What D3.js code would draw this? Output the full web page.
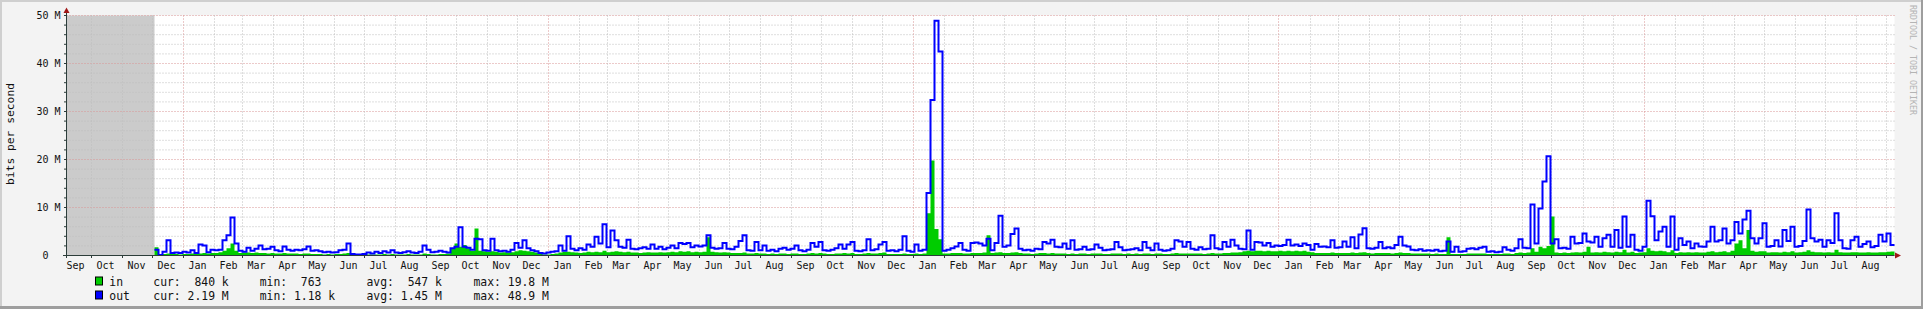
<!DOCTYPE html>
<html>
<head>
<meta charset="utf-8">
<script src="https://cdn.jsdelivr.net/npm/d3@7"></script>
<style>
  body { margin: 0; background: #f3f3f3; }
  svg text { font-family: "DejaVu Sans Mono", monospace; white-space: pre; }
</style>
</head>
<body>
<div id="chart"></div>
<script>
// traffic, Mbit/s, one value every 4 days starting 2013-12-04
var outMbps = [
  1.2,0.1,0.8,3.2,0.5,0.6,0.5,0.8,0.6,1.1,
  0.5,2.3,2.1,0.7,1.2,1.1,1.2,3.2,4.2,7.9,
  2.5,1.0,0.8,1.6,1.0,1.4,2.1,1.3,1.4,1.8,
  1.1,0.9,1.9,1.2,1.0,1.2,1.1,1.3,1.9,1.0,
  1.1,0.9,0.7,0.8,0.6,0.7,1.1,1.2,2.5,0.3,
  0.2,0.2,0.3,0.6,0.4,0.8,0.5,0.9,0.6,1.1,
  0.6,0.5,0.7,0.9,0.6,0.5,0.8,2.1,1.2,0.7,
  0.8,1.0,0.8,0.6,1.5,1.8,5.9,1.8,1.6,1.2,
  3.5,3.4,1.1,1.0,3.5,1.1,0.9,1.0,0.8,1.2,
  2.6,1.6,3.2,1.5,1.1,0.9,0.5,0.4,0.6,0.8,
  0.9,2.1,1.0,4.0,1.4,1.1,1.5,1.2,2.3,1.8,
  3.9,2.5,6.5,1.7,5.2,3.2,1.8,1.6,3.3,1.4,
  1.3,1.5,1.7,1.4,2.3,1.4,1.8,1.3,1.6,2.1,
  1.5,2.6,2.4,2.6,1.7,2.1,1.9,2.1,4.2,1.6,
  1.4,1.5,2.6,1.4,1.3,1.8,3.0,4.2,1.1,1.0,
  2.8,1.1,2.1,1.0,1.2,0.9,1.4,1.6,1.2,1.4,
  2.1,1.1,0.9,1.2,2.6,1.8,2.8,1.1,1.0,1.2,
  1.5,2.3,1.4,2.3,2.8,1.0,0.9,1.1,3.4,1.1,
  1.3,2.3,2.8,1.0,1.1,0.9,1.2,4.0,1.0,0.8,
  2.3,1.0,1.2,13.0,32.4,48.9,42.5,1.0,1.2,1.5,
  1.9,2.6,1.2,1.0,2.6,2.7,2.5,2.1,3.5,1.1,
  2.6,8.3,1.8,2.1,4.5,5.6,1.4,1.1,1.2,1.0,
  1.4,1.3,2.8,2.5,3.3,1.8,1.7,2.5,1.4,3.2,
  1.2,1.3,1.8,1.2,1.3,2.3,1.6,1.1,1.2,1.3,
  2.8,1.7,1.1,1.2,1.3,1.5,1.1,2.8,1.6,1.1,
  2.5,1.2,1.0,1.1,1.4,3.2,2.9,1.8,2.8,1.4,
  1.2,1.7,1.3,1.4,4.2,1.5,1.3,2.8,1.8,3.3,
  2.1,1.4,1.3,5.2,1.2,2.8,2.7,2.1,2.6,1.8,
  2.1,2.0,2.2,3.3,2.1,2.3,2.0,2.5,2.2,1.2,
  2.4,1.8,1.9,1.7,3.2,1.6,1.7,2.9,1.8,3.8,
  1.5,4.4,5.7,1.5,1.4,1.6,2.8,1.5,1.7,1.5,
  2.2,3.9,2.1,1.9,1.2,1.1,1.3,1.0,1.1,1.0,
  1.2,0.9,1.0,2.9,0.8,1.8,0.8,0.9,1.4,1.5,
  1.3,1.6,1.8,0.8,0.9,0.7,0.8,1.7,1.2,1.0,
  1.5,3.4,1.6,1.5,10.6,2.5,9.8,15.4,20.7,2.5,
  3.4,1.5,1.6,1.4,3.9,2.5,2.6,4.6,2.9,2.7,
  3.9,1.8,3.6,4.3,1.8,5.3,1.6,8.1,1.8,4.3,
  1.2,1.0,1.8,11.4,8.2,3.2,5.0,6.0,1.8,8.1,
  1.2,3.6,2.2,2.9,1.5,2.5,1.9,1.8,2.9,6.0,
  2.9,3.2,5.6,2.5,3.2,7.0,4.6,7.5,9.3,3.6,
  2.5,3.6,6.7,1.8,2.0,3.2,1.9,5.3,3.0,6.0,
  1.8,2.0,3.0,9.6,3.6,2.9,3.3,1.8,3.2,2.6,
  8.8,3.2,1.5,1.4,3.2,3.9,1.8,2.4,2.9,1.7,
  2.0,4.3,2.9,4.6,2.19
];

var inMbps = [
  1.7,0.1,0.3,0.4,0.3,0.3,0.2,0.3,0.3,0.4,
  0.3,0.4,0.5,0.4,0.5,0.5,0.7,1.0,1.5,2.5,
  1.0,0.5,0.6,0.6,0.5,0.6,0.5,0.5,0.4,0.5,
  0.4,0.4,0.5,0.4,0.4,0.4,0.3,0.4,0.4,0.3,
  0.3,0.3,0.2,0.3,0.2,0.3,0.3,0.4,0.5,0.1,
  0.1,0.1,0.1,0.2,0.2,0.2,0.2,0.3,0.2,0.3,
  0.2,0.2,0.2,0.3,0.2,0.2,0.2,0.4,0.3,0.2,
  0.2,0.3,0.3,0.4,1.5,2.5,1.8,2.2,1.5,1.0,
  5.6,1.0,0.9,0.8,0.9,0.8,0.6,0.7,0.6,0.7,
  0.9,1.1,1.0,0.9,0.8,0.6,0.3,0.2,0.2,0.3,
  0.4,0.6,0.8,0.8,0.7,0.6,0.5,0.6,0.8,0.7,
  0.8,0.7,1.0,0.7,0.8,0.9,0.8,0.7,0.8,0.6,
  0.6,0.5,0.6,0.7,0.6,0.6,0.7,0.6,0.7,0.8,
  0.7,0.9,0.8,0.9,0.7,0.8,0.7,0.8,3.8,0.8,
  0.7,0.6,0.7,0.6,0.5,0.5,0.5,0.6,0.4,0.4,
  0.5,0.4,0.4,0.3,0.4,0.3,0.4,0.4,0.3,0.4,
  0.4,0.3,0.3,0.4,0.5,0.4,0.5,0.4,0.3,0.3,
  0.4,0.4,0.5,0.4,0.5,0.3,0.3,0.4,0.5,0.4,
  0.4,0.5,0.6,0.3,0.3,0.3,0.3,0.4,0.3,0.3,
  0.4,0.3,0.4,8.8,19.8,5.5,3.4,0.4,0.4,0.5,
  0.5,0.5,0.4,0.4,0.5,0.5,0.5,0.6,4.2,0.5,
  0.6,0.7,0.5,0.5,0.6,0.7,0.5,0.4,0.4,0.3,
  0.4,0.5,0.5,0.4,0.5,0.4,0.4,0.4,0.3,0.4,
  0.3,0.4,0.4,0.3,0.4,0.4,0.4,0.3,0.3,0.4,
  0.4,0.4,0.3,0.4,0.3,0.4,0.3,0.4,0.4,0.3,
  0.4,0.4,0.3,0.3,0.4,0.5,0.4,0.4,0.4,0.4,
  0.4,0.4,0.3,0.4,0.5,0.4,0.4,0.5,0.5,0.6,
  0.6,0.7,0.9,1.0,0.9,1.0,1.0,0.9,1.0,0.9,
  0.9,1.0,0.9,1.0,0.9,1.0,0.9,1.0,0.8,0.7,
  0.5,0.5,0.5,0.5,0.6,0.5,0.5,0.5,0.5,0.6,
  0.5,0.6,0.7,0.5,0.4,0.5,0.5,0.5,0.5,0.4,
  0.5,0.6,0.5,0.5,0.4,0.4,0.4,0.4,0.4,0.3,
  0.4,0.3,0.3,3.8,0.3,0.3,0.3,0.3,0.4,0.4,
  0.4,0.4,0.4,0.3,0.3,0.3,0.3,0.4,0.4,0.3,
  0.5,0.6,0.5,0.6,1.5,0.8,1.8,1.5,2.0,8.1,
  0.6,0.5,0.6,0.5,0.6,0.7,0.6,0.8,1.8,0.6,
  0.7,0.6,0.8,0.7,0.6,0.8,0.7,1.2,0.6,0.8,
  0.5,0.6,0.7,1.5,1.0,0.9,1.0,0.9,0.7,1.1,
  0.5,0.7,0.6,0.7,0.6,0.7,0.6,0.6,0.8,0.9,
  0.7,0.8,0.9,0.7,1.0,2.5,3.2,1.5,5.3,1.0,
  0.8,0.9,0.9,0.6,0.7,0.7,0.6,0.8,0.7,0.9,
  0.6,0.7,0.8,1.1,0.8,0.7,0.7,0.6,0.7,0.6,
  1.2,0.7,0.6,0.6,0.7,0.7,0.6,0.6,0.7,0.6,
  0.6,0.7,0.7,0.8,0.84
];

var yTicks = [0, 10, 20, 30, 40, 50];
var legendNames = ["in", "out"];
var legendCur = ["cur:  840 k", "cur: 2.19 M"];
var legendMin = ["min:  763", "min: 1.18 k"];
var legendAvg = ["avg:  547 k", "avg: 1.45 M"];
var legendMax = ["max: 19.8 M", "max: 48.9 M"];

var viewStart = new Date(Date.UTC(2013, 8, 7));
var viewEnd = new Date(Date.UTC(2018, 8, 9));
var dataStart = new Date(Date.UTC(2013, 11, 4));
var stepDays = 4;

var colIn = "#00cc00", colOut = "#0000ff";
var axisCol = "#2c3d3a", arrowCol = "#a01818";

var svg = d3.select("#chart").append("svg")
  .attr("width", 1923).attr("height", 309);

// frame
svg.append("rect").attr("width", 1923).attr("height", 309).attr("fill", "#f3f3f3");
svg.append("rect").attr("x", 0).attr("y", 0).attr("width", 1923).attr("height", 2).attr("fill", "#cfcfcf");
svg.append("rect").attr("x", 0).attr("y", 0).attr("width", 2).attr("height", 309).attr("fill", "#cfcfcf");
svg.append("rect").attr("x", 0).attr("y", 306).attr("width", 1923).attr("height", 3).attr("fill", "#9e9e9e");
svg.append("rect").attr("x", 1921).attr("y", 0).attr("width", 2).attr("height", 309).attr("fill", "#9e9e9e");

var x = d3.scaleUtc().domain([viewStart, viewEnd]).range([66.5, 1894.5]);
var y = d3.scaleLinear().domain([0, 50]).range([255.5, 15.5]);

// canvas
svg.append("rect")
  .attr("x", x(viewStart)).attr("y", y(50))
  .attr("width", x(viewEnd) - x(viewStart)).attr("height", y(0) - y(50))
  .attr("fill", "#ffffff");

// no data yet
svg.append("rect")
  .attr("x", x(viewStart)).attr("y", y(50))
  .attr("width", x(dataStart) - x(viewStart)).attr("height", y(0) - y(50))
  .attr("fill", "#cbcbcb");

// grid
var grid = svg.append("g").attr("stroke-dasharray", "1,2").attr("stroke-width", 1);
d3.range(2, 51, 2).forEach(function(v) {
  grid.append("line")
    .attr("x1", x(viewStart)).attr("x2", x(viewEnd))
    .attr("y1", y(v)).attr("y2", y(v))
    .attr("stroke", v % 10 === 0 ? "#d89494" : "#bdbdbd");
});
var months = d3.utcMonth.range(d3.utcMonth.ceil(viewStart), viewEnd);
months.forEach(function(m) {
  var xm = Math.round(x(m)) + 0.5;
  grid.append("line")
    .attr("x1", xm).attr("x2", xm)
    .attr("y1", y(50)).attr("y2", y(0))
    .attr("stroke", m.getUTCMonth() === 0 ? "#d89494" : "#bdbdbd");
});

// series
var pts = function(arr) {
  var p = arr.map(function(v, i) { return [d3.utcDay.offset(dataStart, i * stepDays), v]; });
  p.push([viewEnd, arr[arr.length - 1]]);
  return p;
};

var area = d3.area()
  .curve(d3.curveStepAfter)
  .x(function(d) { return x(d[0]); })
  .y0(y(0))
  .y1(function(d) { return y(d[1]); });

var line = d3.line()
  .curve(d3.curveStepAfter)
  .x(function(d) { return x(d[0]); })
  .y(function(d) { return y(d[1]); });

svg.append("path").attr("d", area(pts(inMbps))).attr("fill", colIn);
svg.append("path").attr("d", line(pts(outMbps)))
  .attr("fill", "none").attr("stroke", colOut).attr("stroke-width", 2);

// axes
var ax = svg.append("g").attr("stroke", axisCol).attr("stroke-width", 1);
ax.append("line").attr("x1", 63).attr("x2", x(viewEnd)).attr("y1", y(0)).attr("y2", y(0));
ax.append("line").attr("x1", x(viewStart)).attr("x2", x(viewStart)).attr("y1", 258).attr("y2", 12);
d3.range(2, 51, 2).forEach(function(v) {
  ax.append("line").attr("x1", 64).attr("x2", x(viewStart)).attr("y1", y(v)).attr("y2", y(v));
});
months.forEach(function(m) {
  var xm = Math.round(x(m)) + 0.5;
  ax.append("line").attr("x1", xm).attr("x2", xm).attr("y1", y(0)).attr("y2", 258);
});
svg.append("path").attr("fill", arrowCol)
  .attr("d", "M63.5,13L69.5,13L66.5,7.5Z");
svg.append("path").attr("fill", arrowCol)
  .attr("d", "M1895,252.5L1895,258.5L1901,255.5Z");

// y labels
svg.selectAll(".ylab").data(yTicks).enter().append("text")
  .attr("class", "ylab")
  .attr("x", 60.5).attr("y", function(d) { return y(d) + 3.4; })
  .attr("text-anchor", "end").attr("font-size", "10px").attr("fill", "#111")
  .text(function(d) { return d === 0 ? "0  " : d + " M"; });

// month labels, centred half a month in
var labMonths = d3.utcMonth.range(d3.utcMonth.floor(viewStart), viewEnd)
  .filter(function(m) { var c = d3.utcDay.offset(m, 15); return c >= viewStart && c <= viewEnd; });
svg.selectAll(".xlab").data(labMonths).enter().append("text")
  .attr("class", "xlab")
  .attr("x", function(m) { return x(d3.utcDay.offset(m, 15)); })
  .attr("y", 268.5)
  .attr("text-anchor", "middle").attr("font-size", "10px").attr("fill", "#111")
  .text(d3.utcFormat("%b"));

// axis title
svg.append("text")
  .attr("transform", "translate(13.5,134) rotate(-90)")
  .attr("text-anchor", "middle").attr("font-size", "11.3px").attr("fill", "#111")
  .text("bits per second");

// watermark
svg.append("text")
  .attr("transform", "translate(1910,5) rotate(90)")
  .attr("font-size", "8.5px").attr("fill", "#b4b4b4")
  .attr("textLength", 110).attr("lengthAdjust", "spacingAndGlyphs")
  .text("RRDTOOL / TOBI OETIKER");

// legend
var cols = [153.3, 259.7, 366.5, 473.5];
legendNames.forEach(function(name, i) {
  var base = 285.5 + i * 14;
  svg.append("rect")
    .attr("x", 95.5).attr("y", base - 8.5).attr("width", 7).attr("height", 8)
    .attr("fill", i === 0 ? colIn : colOut).attr("stroke", "#000");
  var row = [name, legendCur[i], legendMin[i], legendAvg[i], legendMax[i]];
  var xs = [109.3].concat(cols);
  row.forEach(function(t, j) {
    svg.append("text").attr("x", xs[j]).attr("y", base)
      .attr("font-size", "11.4px").attr("fill", "#111").text(t);
  });
});
</script>
</body>
</html>
